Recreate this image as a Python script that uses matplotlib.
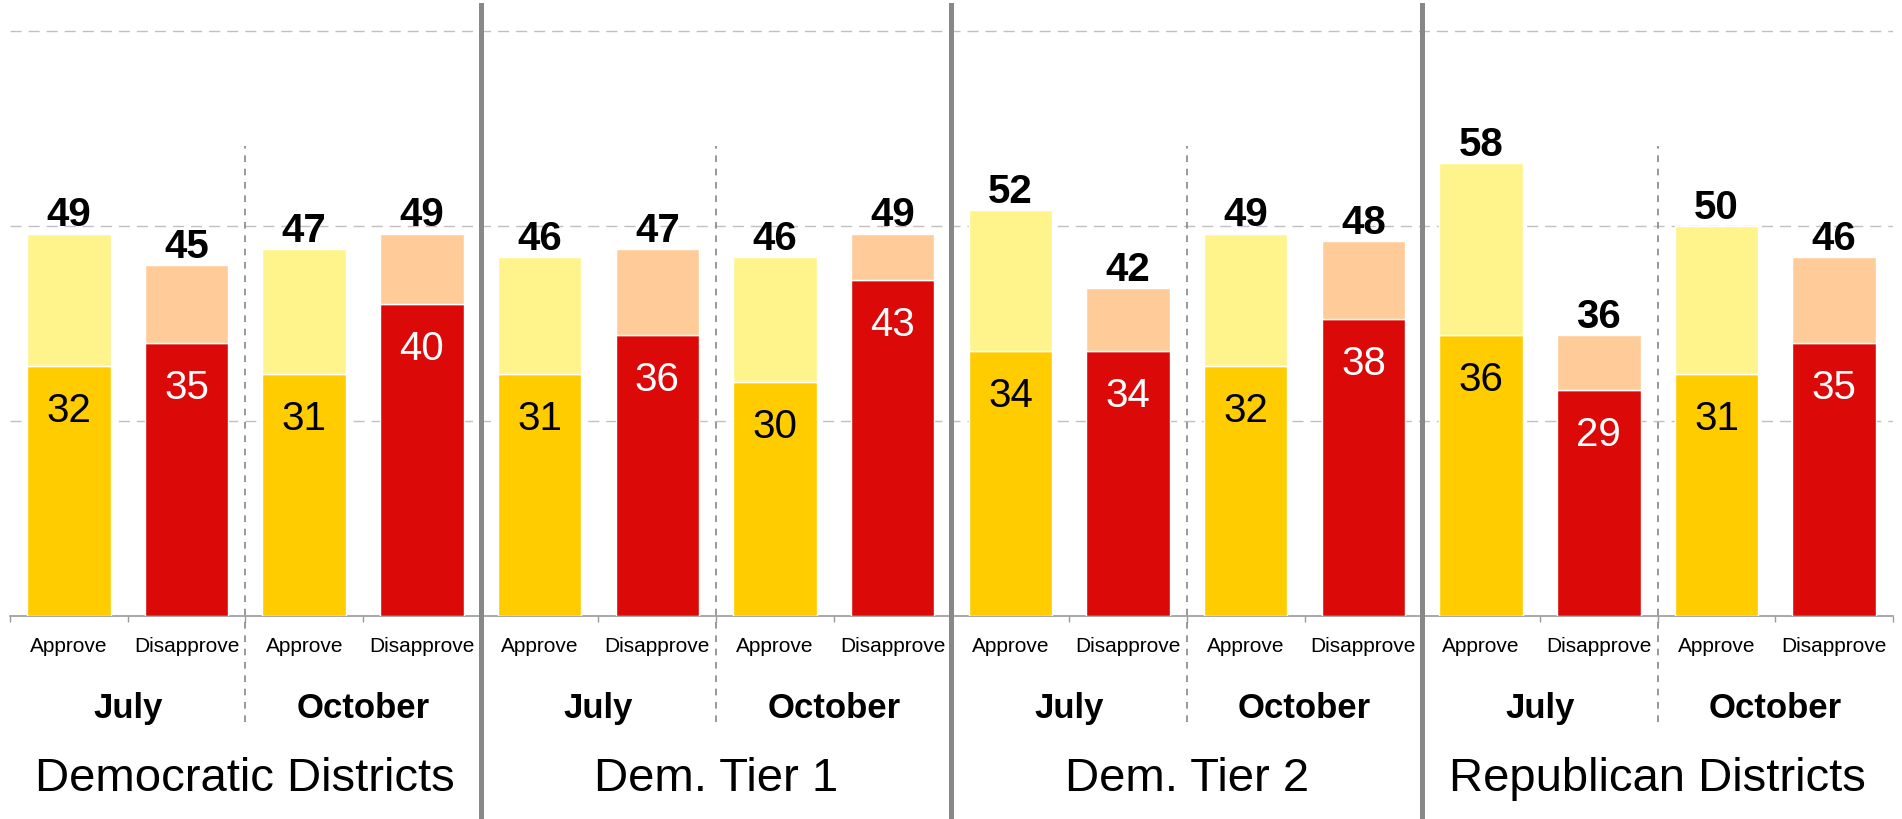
import numpy as np
import matplotlib
matplotlib.use("Agg")
import matplotlib.pyplot as plt

plt.rcParams['font.family'] = ['Liberation Sans', 'DejaVu Sans']

districts = ['Democratic Districts', 'Dem. Tier 1', 'Dem. Tier 2', 'Republican Districts']
months = ['July', 'October']
answers = ['Approve', 'Disapprove']

# total approve/disapprove (light + dark), and the strong part (dark)
total = [49, 45, 47, 49, 46, 47, 46, 49, 52, 42, 49, 48, 58, 36, 50, 46]
strong = [32, 35, 31, 40, 31, 36, 30, 43, 34, 34, 32, 38, 36, 29, 31, 35]

dark_cols = ['#FFCC00', '#DC0909']
light_cols = ['#FFF48C', '#FFCB99']
txt_cols = ['black', 'white']

fig = plt.figure(figsize=(19.02, 8.2), dpi=100)
ax = fig.add_axes([10/1902, 203/820, 1883/1902, 611/820])

x = np.arange(len(total))
w = 0.71
for i in x:
    k = i % 2
    ax.bar(i, strong[i], width=w, color=dark_cols[k], edgecolor='white', linewidth=1, zorder=3)
    ax.bar(i, total[i] - strong[i], bottom=strong[i], width=w, color=light_cols[k],
           edgecolor='white', linewidth=1, zorder=3)
    ax.annotate(str(total[i]), (i, total[i]), xytext=(0, 6), textcoords='offset points',
                ha='center', va='baseline', fontsize=29, fontweight='bold', color='black', zorder=4)
    ax.annotate(str(strong[i]), (i, strong[i]), xytext=(0, -18), textcoords='offset points',
                ha='center', va='top', fontsize=29, color=txt_cols[k], zorder=4)

ax.set_xlim(-0.5, 15.5)
ax.set_ylim(0, 78.3)

for y in [25, 50, 75]:
    ax.axhline(y, color='#c0c0c0', lw=1, ls=(0, (8, 5)), zorder=1)

for s in ['left', 'right', 'top']:
    ax.spines[s].set_visible(False)
ax.spines['bottom'].set_color('#999999')
ax.spines['bottom'].set_linewidth(1.2)

ax.set_yticks([])
ax.set_xticks(np.arange(-0.5, 16, 1))
ax.set_xticklabels([])
ax.tick_params(axis='x', length=4.5, width=1, color='#999999')

tr = ax.get_xaxis_transform()
for i in x:
    ax.text(i, -0.049, answers[i % 2], transform=tr, ha='center', va='center', fontsize=15)
for j in range(8):
    ax.text(2 * j + 0.5, -0.149, months[j % 2], transform=tr, ha='center', va='center',
            fontsize=25, fontweight='bold')
for j in range(4):
    ax.text(4 * j + 1.5, -0.265, districts[j], transform=tr, ha='center', va='center', fontsize=34)

for j in range(4):
    ax.axvline(4 * j + 1.5, ymin=-0.173, ymax=0.77, color='#888888', lw=1.2, ls=(0, (4, 4)),
               clip_on=False, zorder=2)
for j in range(1, 4):
    ax.axvline(4 * j - 0.5, ymin=-0.34, ymax=1, color='#888888', lw=3.6, clip_on=False, zorder=5)

fig.savefig('out.png', dpi=100)
